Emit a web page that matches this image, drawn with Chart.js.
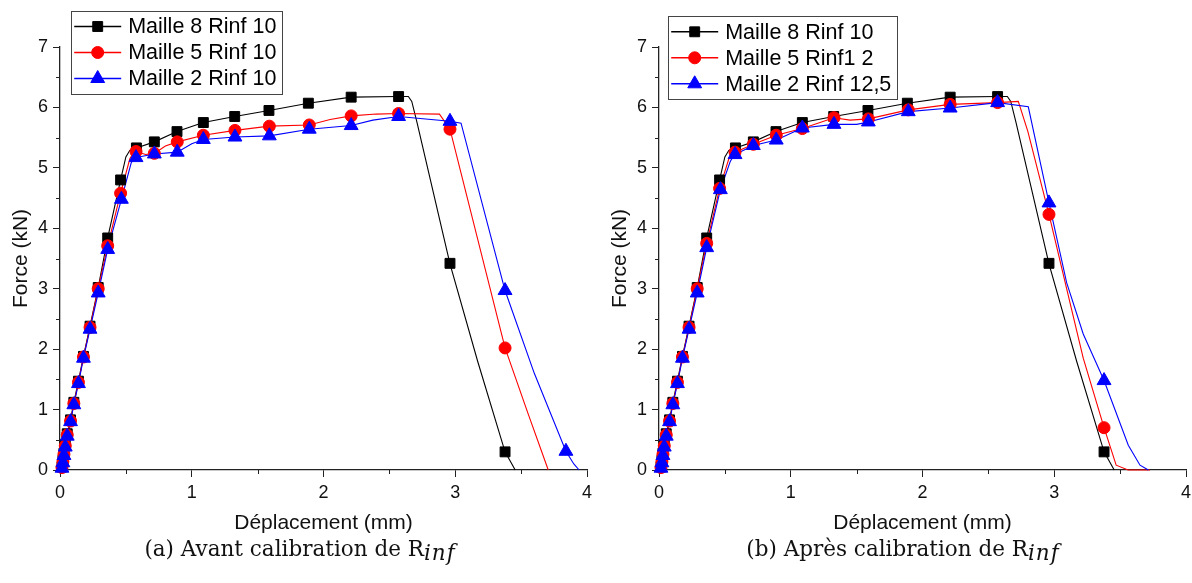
<!DOCTYPE html>
<html><head><meta charset="utf-8">
<script src="https://cdn.jsdelivr.net/npm/chart.js@4.4.0/dist/chart.umd.min.js"></script>
<style>
html,body{margin:0;padding:0;width:1192px;height:583px;overflow:hidden;background:#fff;}
.panel{position:absolute;top:0;width:600px;height:540px;}
.cap{position:absolute;top:535px;font-family:"DejaVu Serif",serif;font-size:21.5px;line-height:28px;color:#111;white-space:nowrap;transform:translateX(-50%);}
.cap i{position:relative;top:4px;letter-spacing:1px;}
</style></head><body>
<div class="panel" style="left:0"><canvas id="c1" width="600" height="540"></canvas></div>
<div class="panel" style="left:599px"><canvas id="c2" width="600" height="540"></canvas></div>
<div class="cap" style="left:300px">(a) Avant calibration de R<i>inf</i></div>
<div class="cap" style="left:903px">(b) Après calibration de R<i>inf</i></div>
<script>
// ---- axis ticks ----
const xMajorTicks = [0, 1, 2, 3, 4];
const yMajorTicks = [0, 1, 2, 3, 4, 5, 6, 7];
const xMinorTicks = [0.5, 1.5, 2.5, 3.5];
const yMinorTicks = [0.5, 1.5, 2.5, 3.5, 4.5, 5.5, 6.5];

// ---- series labels ----
const labelsA = ["Maille 8 Rinf 10", "Maille 5 Rinf 10", "Maille 2 Rinf 10"];
const labelsB = ["Maille 8 Rinf 10", "Maille 5 Rinf1 2", "Maille 2 Rinf 12,5"];

// ---- Maille 8 Rinf 10 (both panels) ----
const blackLineX = [0,0.015,0.022,0.03,0.04,0.055,0.08,0.105,0.14,0.178,0.228,0.29,0.362,0.46,0.5,0.53,0.58,0.716,0.888,1.088,1.326,1.586,1.885,2.21,2.57,2.644,2.67,2.71,2.96,3.17,3.378,3.455];
const blackLineY = [0,0.05,0.16,0.28,0.42,0.6,0.83,1.12,1.47,1.88,2.38,3.02,3.84,4.8,5.18,5.29,5.33,5.43,5.6,5.75,5.85,5.95,6.07,6.17,6.18,6.18,6.1,5.75,3.41,1.8,0.3,0];
const blackMarkX = [0.015,0.022,0.03,0.04,0.055,0.08,0.105,0.14,0.178,0.228,0.29,0.362,0.46,0.58,0.716,0.888,1.088,1.326,1.586,1.885,2.21,2.57,2.96,3.378];
const blackMarkY = [0.05,0.16,0.28,0.42,0.6,0.83,1.12,1.47,1.88,2.38,3.02,3.84,4.8,5.33,5.43,5.6,5.75,5.85,5.95,6.07,6.17,6.18,3.42,0.3];

// ---- (a) Maille 5 Rinf 10 ----
const redALineX = [0,0.015,0.022,0.03,0.04,0.055,0.08,0.105,0.14,0.178,0.228,0.29,0.362,0.46,0.53,0.555,0.577,0.65,0.716,0.8,0.89,1.088,1.328,1.589,1.892,2.05,2.21,2.4,2.57,2.88,2.96,3.378,3.55,3.706];
const redALineY = [0,0.04,0.14,0.26,0.4,0.58,0.81,1.1,1.45,1.87,2.36,3.0,3.71,4.58,5.15,5.24,5.27,5.22,5.24,5.36,5.43,5.54,5.62,5.69,5.71,5.8,5.86,5.89,5.9,5.89,5.64,2.02,0.95,0];
const redAMarkX = [0.015,0.022,0.03,0.04,0.055,0.08,0.105,0.14,0.178,0.228,0.29,0.362,0.46,0.577,0.716,0.89,1.088,1.328,1.589,1.892,2.21,2.57,2.96,3.378];
const redAMarkY = [0.04,0.14,0.26,0.4,0.58,0.81,1.1,1.45,1.87,2.36,3.0,3.71,4.58,5.27,5.24,5.43,5.54,5.62,5.69,5.71,5.86,5.9,5.64,2.02];

// ---- (a) Maille 2 Rinf 10 ----
const blueALineX = [0,0.015,0.022,0.03,0.04,0.055,0.08,0.105,0.14,0.178,0.228,0.29,0.362,0.466,0.54,0.56,0.577,0.716,0.89,1.0,1.088,1.328,1.589,1.892,2.21,2.375,2.57,2.96,3.044,3.378,3.6,3.84,3.9,3.94];
const blueALineY = [0,0.03,0.12,0.24,0.38,0.56,0.8,1.08,1.43,1.85,2.33,2.93,3.65,4.48,5.08,5.15,5.17,5.23,5.26,5.4,5.47,5.51,5.53,5.64,5.7,5.79,5.85,5.77,5.74,2.97,1.6,0.31,0.1,0];
const blueAMarkX = [0.015,0.022,0.03,0.04,0.055,0.08,0.105,0.14,0.178,0.228,0.29,0.362,0.466,0.577,0.716,0.89,1.088,1.328,1.589,1.892,2.21,2.57,2.96,3.378,3.84];
const blueAMarkY = [0.03,0.12,0.24,0.38,0.56,0.8,1.08,1.43,1.85,2.33,2.93,3.65,4.48,5.17,5.23,5.26,5.47,5.51,5.53,5.64,5.7,5.85,5.77,2.97,0.31];

// ---- (b) Maille 5 Rinf1 2 ----
const redBLineX = [0,0.015,0.022,0.03,0.04,0.055,0.08,0.105,0.14,0.178,0.228,0.29,0.362,0.46,0.53,0.555,0.577,0.716,0.89,1.088,1.328,1.45,1.589,1.892,2.21,2.57,2.727,2.8,2.96,3.094,3.22,3.378,3.47,3.56,3.727];
const redBLineY = [0,0.04,0.14,0.26,0.4,0.58,0.81,1.1,1.45,1.87,2.36,3.0,3.75,4.66,5.15,5.23,5.26,5.39,5.54,5.65,5.83,5.79,5.81,5.96,6.05,6.08,6.1,5.6,4.23,3.0,1.85,0.7,0.08,0,0];
const redBMarkX = [0.015,0.022,0.03,0.04,0.055,0.08,0.105,0.14,0.178,0.228,0.29,0.362,0.46,0.577,0.716,0.89,1.088,1.328,1.589,1.892,2.21,2.57,2.96,3.378];
const redBMarkY = [0.04,0.14,0.26,0.4,0.58,0.81,1.1,1.45,1.87,2.36,3.0,3.75,4.66,5.26,5.39,5.54,5.65,5.83,5.81,5.96,6.05,6.08,4.23,0.7];

// ---- (b) Maille 2 Rinf 12,5 ----
const blueBLineX = [0,0.015,0.022,0.03,0.04,0.055,0.08,0.105,0.14,0.178,0.228,0.29,0.362,0.466,0.54,0.56,0.577,0.716,0.89,1.088,1.328,1.5,1.589,1.892,2.21,2.57,2.803,2.96,3.094,3.22,3.378,3.562,3.651,3.714];
const blueBLineY = [0,0.03,0.12,0.24,0.38,0.56,0.8,1.08,1.43,1.85,2.33,2.93,3.68,4.64,5.1,5.18,5.22,5.37,5.46,5.66,5.72,5.72,5.76,5.93,5.99,6.08,6.01,4.42,3.1,2.25,1.48,0.41,0.08,0];
const blueBMarkX = [0.015,0.022,0.03,0.04,0.055,0.08,0.105,0.14,0.178,0.228,0.29,0.362,0.466,0.577,0.716,0.89,1.088,1.328,1.589,1.892,2.21,2.57,2.96,3.378];
const blueBMarkY = [0.03,0.12,0.24,0.38,0.56,0.8,1.08,1.43,1.85,2.33,2.93,3.68,4.64,5.22,5.37,5.46,5.66,5.72,5.76,5.93,5.99,6.08,4.42,1.48];

const FONT = '"Liberation Sans", Arial, sans-serif';
const AXIS_COLOR = '#222';
const zip = (xs, ys) => xs.map((x, i) => ({x, y: ys[i]}));

const styles = [
  {color: '#000000', pointStyle: 'rect', radius: 7},
  {color: '#ff0000', pointStyle: 'circle', radius: 6},
  {color: '#0000ff', pointStyle: 'triangle', radius: 8}
];

const minorTicksPlugin = {
  id: 'minorTicks',
  afterDraw(chart) {
    const ctx = chart.ctx, a = chart.chartArea;
    const xs = chart.scales.x, ys = chart.scales.y;
    ctx.save();
    ctx.strokeStyle = AXIS_COLOR; ctx.lineWidth = 1;
    xMinorTicks.forEach(v => {
      const px = Math.round(xs.getPixelForValue(v)) + 0.5;
      ctx.beginPath(); ctx.moveTo(px, a.bottom); ctx.lineTo(px, a.bottom + 4); ctx.stroke();
    });
    yMinorTicks.forEach(v => {
      const py = Math.round(ys.getPixelForValue(v)) + 0.5;
      ctx.beginPath(); ctx.moveTo(a.left, py); ctx.lineTo(a.left - 4, py); ctx.stroke();
    });
    ctx.restore();
  }
};

const boxLegendPlugin = {
  id: 'boxLegend',
  afterDraw(chart, args, opts) {
    const ctx = chart.ctx, a = chart.chartArea;
    const x0 = a.left + opts.dx, y0 = opts.top;
    ctx.save();
    ctx.font = '21.5px ' + FONT;
    let maxW = 0;
    opts.labels.forEach(l => { maxW = Math.max(maxW, ctx.measureText(l).width); });
    const w = 57.5 + maxW + 5, h = 83.3;
    ctx.fillStyle = '#fff';
    ctx.fillRect(x0, y0, w, h);
    ctx.strokeStyle = '#444'; ctx.lineWidth = 1;
    ctx.strokeRect(Math.round(x0) + 0.5, Math.round(y0) + 0.5, Math.round(w), Math.round(h));
    opts.labels.forEach((l, i) => {
      const st = styles[i];
      const cy = y0 + 15.8 + i * 26;
      ctx.strokeStyle = st.color; ctx.lineWidth = 1.5;
      ctx.beginPath(); ctx.moveTo(x0 + 3.5, cy); ctx.lineTo(x0 + 50.5, cy); ctx.stroke();
      ctx.fillStyle = st.color; ctx.strokeStyle = st.color; ctx.lineWidth = 1;
      Chart.helpers.drawPoint(ctx, {pointStyle: st.pointStyle, radius: st.radius, borderWidth: 1, rotation: 0}, x0 + 27, cy);
      ctx.fillStyle = '#000';
      ctx.textBaseline = 'middle'; ctx.textAlign = 'left';
      ctx.fillText(l, x0 + 57.5, cy + 1);
    });
    ctx.restore();
  }
};

function makePanel(id, labels, series, legendDx, legendTop) {
  const datasets = [];
  series.forEach((s, i) => {
    const st = styles[i];
    datasets.push({
      label: labels[i] + ' markers',
      data: zip(s.markX, s.markY),
      showLine: false,
      pointStyle: st.pointStyle,
      pointRadius: st.radius,
      pointBackgroundColor: st.color,
      pointBorderColor: st.color,
      pointBorderWidth: 1,
      order: 2 - i,
      clip: false
    });
  });
  series.forEach((s, i) => {
    const st = styles[i];
    datasets.push({
      label: labels[i],
      data: zip(s.lineX, s.lineY),
      showLine: true,
      borderColor: st.color,
      borderWidth: 1.1,
      pointRadius: 0,
      tension: 0,
      order: 10 - i,
      clip: false
    });
  });
  return new Chart(document.getElementById(id), {
    type: 'scatter',
    data: {datasets},
    plugins: [minorTicksPlugin, boxLegendPlugin],
    options: {
      responsive: false,
      animation: false,
      events: [],
      layout: {padding: {top: 47, right: 13, bottom: 0, left: 0}},
      plugins: {
        legend: {display: false},
        tooltip: {enabled: false},
        boxLegend: {labels, dx: legendDx, top: legendTop}
      },
      scales: {
        x: {
          type: 'linear', min: xMajorTicks[0], max: xMajorTicks[xMajorTicks.length - 1],
          afterFit(scale) { scale.height = 70; },
          afterBuildTicks(scale) { scale.ticks = xMajorTicks.map(v => ({value: v})); },
          ticks: {color: '#111', font: {family: FONT, size: 18}, padding: 5, maxRotation: 0, autoSkip: false,
                  callback: v => String(v)},
          grid: {display: true, drawOnChartArea: false, drawTicks: true, tickLength: 7, color: AXIS_COLOR, tickWidth: 1},
          border: {display: true, color: AXIS_COLOR, width: 1.3},
          title: {display: true, text: 'Déplacement (mm)', color: '#111', font: {family: FONT, size: 21}, padding: {top: 0, bottom: 4}}
        },
        y: {
          type: 'linear', min: yMajorTicks[0], max: yMajorTicks[yMajorTicks.length - 1],
          afterFit(scale) { scale.width = 60; },
          afterBuildTicks(scale) { scale.ticks = yMajorTicks.map(v => ({value: v})); },
          ticks: {color: '#111', font: {family: FONT, size: 18}, padding: 5, autoSkip: false,
                  callback: v => String(v)},
          grid: {display: true, drawOnChartArea: false, drawTicks: true, tickLength: 7, color: AXIS_COLOR, tickWidth: 1},
          border: {display: true, color: AXIS_COLOR, width: 1.3},
          title: {display: true, text: 'Force (kN)', color: '#111', font: {family: FONT, size: 21}, padding: {top: 9, bottom: 0}}
        }
      }
    }
  });
}

makePanel('c1', labelsA, [
  {lineX: blackLineX, lineY: blackLineY, markX: blackMarkX, markY: blackMarkY},
  {lineX: redALineX, lineY: redALineY, markX: redAMarkX, markY: redAMarkY},
  {lineX: blueALineX, lineY: blueALineY, markX: blueAMarkX, markY: blueAMarkY}
], 10.7, 10.7);

makePanel('c2', labelsB, [
  {lineX: blackLineX, lineY: blackLineY, markX: blackMarkX, markY: blackMarkY},
  {lineX: redBLineX, lineY: redBLineY, markX: redBMarkX, markY: redBMarkY},
  {lineX: blueBLineX, lineY: blueBLineY, markX: blueBMarkX, markY: blueBMarkY}
], 8.7, 16);
</script>
</body></html>
